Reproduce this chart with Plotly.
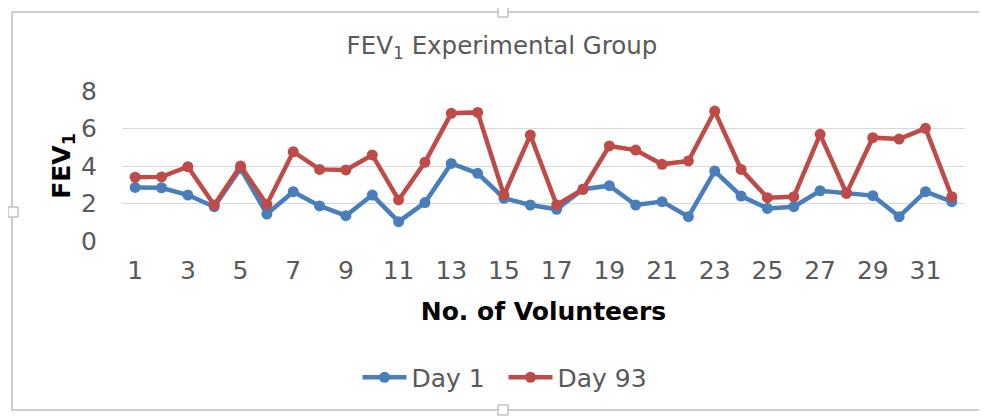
import plotly.graph_objects as go

volunteers = list(range(1, 33))
day1 = [2.86, 2.84, 2.45, 1.83, 3.87, 1.44, 2.63, 1.87, 1.35, 2.45,
        1.03, 2.05, 4.14, 3.61, 2.28, 1.92, 1.69, 2.76, 2.95, 1.92,
        2.10, 1.30, 3.73, 2.40, 1.74, 1.83, 2.68, 2.58, 2.42, 1.30,
        2.63, 2.10]
day93 = [3.40, 3.42, 3.96, 1.92, 4.00, 1.95, 4.76, 3.82, 3.79, 4.59,
         2.19, 4.20, 6.81, 6.86, 2.45, 5.65, 1.92, 2.76, 5.07, 4.85,
         4.09, 4.27, 6.93, 3.82, 2.31, 2.36, 5.69, 2.54, 5.51, 5.44,
         6.01, 2.36]
x_ticks = list(range(1, 33, 2))
y_ticks = [0, 2, 4, 6, 8]

BLUE = "#4A7EBB"
RED = "#BE4B48"
GRAY = "#595959"

W, H = 979, 409
L, R, T, B = 114, 22, 83, 176
PW, PH = W - L - R, H - T - B

fig = go.Figure()
fig.add_trace(go.Scatter(x=volunteers, y=day1, name="Day 1", mode="lines+markers",
                         line=dict(color=BLUE, width=4.5), marker=dict(size=11, color=BLUE),
                         cliponaxis=False))
fig.add_trace(go.Scatter(x=volunteers, y=day93, name="Day 93", mode="lines+markers",
                         line=dict(color=RED, width=4.5), marker=dict(size=11, color=RED),
                         cliponaxis=False))

fig.update_layout(
    width=W, height=H,
    margin=dict(l=L, r=R, t=T, b=B, autoexpand=False),
    paper_bgcolor="white", plot_bgcolor="white",
    font=dict(family="DejaVu Sans", color=GRAY),
    title=dict(text="FEV<sub>1</sub> Experimental Group", x=494 / W, xanchor="center",
               y=1 - 37 / H, yanchor="middle",
               font=dict(family="DejaVu Sans", size=24.5, color=GRAY)),
    xaxis=dict(range=[0.5, 32.5], tickvals=x_ticks, ticktext=[str(v) for v in x_ticks],
               showgrid=False, zeroline=False, showline=False,
               ticks="outside", ticklen=7, tickcolor="rgba(0,0,0,0)",
               tickfont=dict(family="DejaVu Sans", size=25, color=GRAY),
               title=dict(text="<b>No. of Volunteers</b>", standoff=18,
                          font=dict(family="DejaVu Sans", size=25, color="black"))),
    yaxis=dict(range=[0, 8], tickvals=y_ticks, showgrid=True, gridcolor="#D9D9D9", gridwidth=1.3,
               zeroline=False, showline=False,
               ticks="outside", ticklen=19, tickcolor="rgba(0,0,0,0)",
               tickfont=dict(family="DejaVu Sans", size=25, color=GRAY),
               title=dict(text="<b>FEV<sub>1</sub></b>", standoff=3,
                          font=dict(family="DejaVu Sans", size=25, color="black"))),
    legend=dict(orientation="h", x=(495.5 - L) / PW, xanchor="center",
                y=-(369.5 - (T + PH)) / PH, yanchor="middle",
                font=dict(family="DejaVu Sans", size=25, color=GRAY),
                itemwidth=44, entrywidth=87, entrywidthmode="pixels",
                traceorder="normal", bgcolor="rgba(0,0,0,0)"),
    showlegend=True,
)

# chart frame (selection border) around the chart area
def px_x(v):
    return (v - L) / PW

def px_y(v):
    return 1 - (v - T) / PH

fig.add_shape(type="rect", xref="paper", yref="paper",
              x0=px_x(4), x1=px_x(W + 20), y0=px_y(402), y1=px_y(4),
              line=dict(color="#BFBFBF", width=1.5), fillcolor="rgba(0,0,0,0)", layer="below")
for hx, hy in [(495, 4), (5, 204), (495, 402)]:
    fig.add_shape(type="rect", xref="paper", yref="paper",
                  x0=px_x(hx - 5), x1=px_x(hx + 5), y0=px_y(hy + 5), y1=px_y(hy - 5),
                  line=dict(color="#A6A6A6", width=1), fillcolor="white", layer="above")

fig.write_html("out.html")
